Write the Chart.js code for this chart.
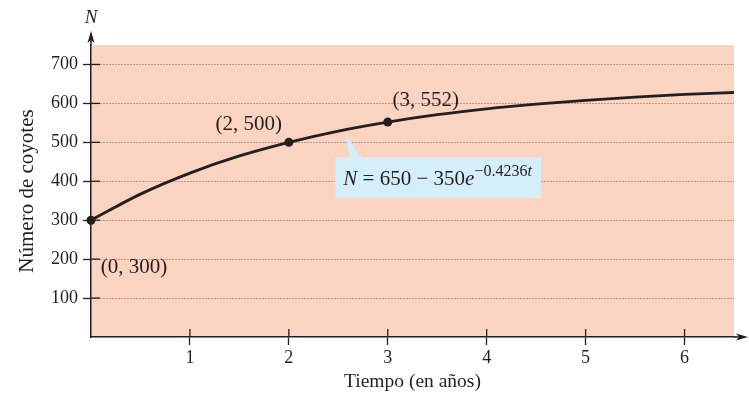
<!DOCTYPE html>
<html>
<head>
<meta charset="utf-8">
<script src="https://cdn.jsdelivr.net/npm/chart.js@4.4.0/dist/chart.umd.min.js"></script>
<style>
  html, body { margin: 0; padding: 0; background: #ffffff; }
  #wrap { width: 749px; height: 399px; position: relative; }
</style>
</head>
<body>
<div id="wrap"><canvas id="coyoteChart"></canvas></div>
<script>
// Data
const years = [0, 0.5, 1, 1.5, 2, 2.5, 3, 3.5, 4, 4.5, 5, 5.5, 6, 6.5];
const coyotes = [300, 367, 421, 465, 500, 529, 552, 571, 586, 598, 608, 616, 623, 628];
const markedYears = [0, 2, 3];
const markedCoyotes = [300, 500, 552];
const markLabels = ['(0, 300)', '(2, 500)', '(3, 552)'];
const xTicks = [1, 2, 3, 4, 5, 6];
const yTicks = [100, 200, 300, 400, 500, 600, 700];

// Styles
const INK = '#231f20';
const PINK = '#fbd3c1';
const BOX_BLUE = '#d4eefa';
const SERIF = '"Liberation Serif", "Times New Roman", serif';

// label offsets (px) from each marked point
const LABEL_OFFSETS = [[43, 47], [-40, -18], [38, -22]];

// equation callout: box anchored in data space, pointer tip on the curve
const EQ_BOX = { t: 2.47, n: 462, w: 206, h: 41 };
const EQ_TIP = { t: 2.57, n: 520 };

const chartDecor = {
    id: 'chartDecor',
    beforeDraw(chart) {
        const { ctx, chartArea: a } = chart;
        ctx.save();
        ctx.fillStyle = PINK;
        ctx.fillRect(a.left, a.top, a.right - a.left, a.bottom - a.top);
        ctx.restore();
    },
    beforeDatasetsDraw(chart) {
        const { ctx, chartArea: a, scales } = chart;
        ctx.save();
        ctx.strokeStyle = INK;
        ctx.lineWidth = 1.3;
        // inner halves of the tick marks
        yTicks.forEach(v => {
            const y = scales.y.getPixelForValue(v);
            ctx.beginPath();
            ctx.moveTo(a.left, y);
            ctx.lineTo(a.left + 9, y);
            ctx.stroke();
        });
        xTicks.forEach(v => {
            const x = scales.x.getPixelForValue(v);
            ctx.beginPath();
            ctx.moveTo(x, a.bottom);
            ctx.lineTo(x, a.bottom - 8);
            ctx.stroke();
        });

        // equation callout
        const bx = scales.x.getPixelForValue(EQ_BOX.t);
        const by = scales.y.getPixelForValue(EQ_BOX.n);
        const tx = scales.x.getPixelForValue(EQ_TIP.t);
        const ty = scales.y.getPixelForValue(EQ_TIP.n);
        ctx.fillStyle = BOX_BLUE;
        ctx.fillRect(bx, by, EQ_BOX.w, EQ_BOX.h);
        ctx.beginPath();
        ctx.moveTo(tx, ty);
        ctx.lineTo(bx + 15, by + 1);
        ctx.lineTo(bx + 27, by + 1);
        ctx.closePath();
        ctx.fill();

        // equation text
        let x = bx + 8;
        const base = by + 28;
        ctx.fillStyle = INK;
        ctx.textBaseline = 'alphabetic';
        ctx.textAlign = 'left';
        const part = (txt, font, dy) => {
            ctx.font = font;
            ctx.fillText(txt, x, base + (dy || 0));
            x += ctx.measureText(txt).width;
        };
        part('N', 'italic 21px ' + SERIF);
        part(' = 650 \u2212 350', '21px ' + SERIF);
        part('e', 'italic 21px ' + SERIF);
        part('\u22120.4236', '16px ' + SERIF, -9);
        part('t', 'italic 16px ' + SERIF, -9);
        ctx.restore();
    },
    afterDraw(chart) {
        const { ctx, chartArea: a, scales } = chart;
        ctx.save();
        ctx.strokeStyle = INK;
        ctx.fillStyle = INK;
        ctx.lineWidth = 1.5;

        // axis extensions and arrowheads
        ctx.beginPath();
        ctx.moveTo(a.left, a.top);
        ctx.lineTo(a.left, a.top - 8);
        ctx.moveTo(a.right, a.bottom);
        ctx.lineTo(a.right + 5, a.bottom);
        ctx.stroke();

        ctx.beginPath();
        ctx.moveTo(a.left, a.top - 14);
        ctx.lineTo(a.left - 3.5, a.top - 2);
        ctx.lineTo(a.left, a.top - 5);
        ctx.lineTo(a.left + 3.5, a.top - 2);
        ctx.closePath();
        ctx.fill();

        ctx.beginPath();
        ctx.moveTo(a.right + 14, a.bottom);
        ctx.lineTo(a.right + 2, a.bottom - 3.5);
        ctx.lineTo(a.right + 5, a.bottom);
        ctx.lineTo(a.right + 2, a.bottom + 3.5);
        ctx.closePath();
        ctx.fill();

        ctx.font = 'italic 19px ' + SERIF;
        ctx.textAlign = 'center';
        ctx.textBaseline = 'middle';
        ctx.fillText('N', a.left, a.top - 27);

        // point labels
        ctx.font = '21px ' + SERIF;
        markedYears.forEach((t, i) => {
            const px = scales.x.getPixelForValue(t) + LABEL_OFFSETS[i][0];
            const py = scales.y.getPixelForValue(markedCoyotes[i]) + LABEL_OFFSETS[i][1];
            ctx.fillText(markLabels[i], px, py);
        });
        ctx.restore();
    }
};

const ctx = document.getElementById('coyoteChart');

new Chart(ctx, {
    type: 'line',
    data: {
        datasets: [
            {
                label: 'N',
                data: years.map((t, i) => ({ x: t, y: coyotes[i] })),
                borderColor: INK,
                borderWidth: 2.8,
                pointRadius: 0,
                cubicInterpolationMode: 'monotone',
                fill: false
            },
            {
                label: 'puntos',
                data: markedYears.map((t, i) => ({ x: t, y: markedCoyotes[i] })),
                showLine: false,
                pointRadius: 4.5,
                pointBackgroundColor: INK,
                pointBorderColor: INK,
                pointBorderWidth: 0
            }
        ]
    },
    options: {
        responsive: true,
        maintainAspectRatio: false,
        animation: false,
        clip: false,
        layout: { padding: { left: 0, top: 45, right: 15, bottom: 0 } },
        plugins: {
            legend: { display: false },
            tooltip: { enabled: false }
        },
        scales: {
            x: {
                type: 'linear',
                min: 0,
                max: 6.5,
                afterBuildTicks: scale => { scale.ticks = xTicks.map(v => ({ value: v })); },
                afterFit: scale => { scale.height = 62; },
                grid: {
                    drawOnChartArea: false,
                    tickLength: 8,
                    tickColor: INK,
                    tickWidth: 1.3
                },
                border: { display: true, color: INK, width: 1.5 },
                ticks: {
                    color: INK,
                    padding: 2,
                    maxRotation: 0,
                    font: { family: SERIF, size: 18 }
                },
                title: {
                    display: true,
                    text: 'Tiempo (en años)',
                    color: INK,
                    font: { family: SERIF, size: 19.5 },
                    padding: { top: 0, bottom: 5 }
                }
            },
            y: {
                type: 'linear',
                min: 0,
                max: 750,
                afterBuildTicks: scale => { scale.ticks = yTicks.map(v => ({ value: v })); },
                afterFit: scale => { scale.width = 91; },
                grid: {
                    color: '#6e5e58',
                    lineWidth: 1,
                    tickLength: 8,
                    tickColor: INK,
                    tickWidth: 1.3,
                    tickBorderDash: []
                },
                border: { display: true, color: INK, width: 1.5, dash: [1, 2] },
                ticks: {
                    color: INK,
                    padding: 5,
                    font: { family: SERIF, size: 18 }
                },
                title: {
                    display: true,
                    text: 'Número de coyotes',
                    color: INK,
                    font: { family: SERIF, size: 21 },
                    padding: { top: 15, bottom: 0 }
                }
            }
        }
    },
    plugins: [chartDecor]
});
</script>
</body>
</html>
